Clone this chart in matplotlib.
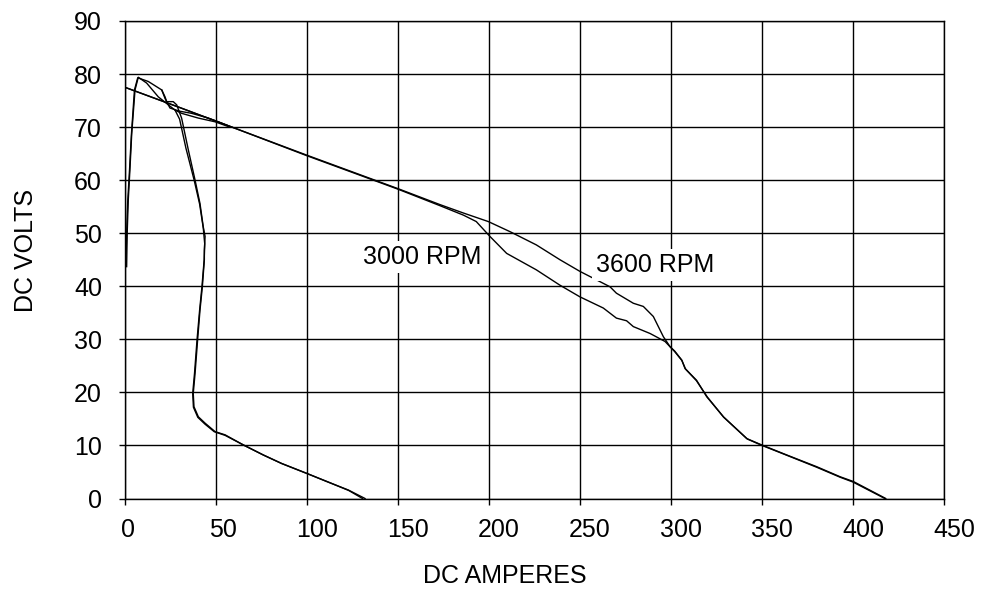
import numpy as np
import matplotlib
matplotlib.use('Agg')
import matplotlib.pyplot as plt
from matplotlib.transforms import ScaledTranslation

plt.rcParams['font.family'] = ['Liberation Sans', 'DejaVu Sans']

# --- data (DC amperes / DC volts) ---
# main load line, open circuit -> short circuit
main_3600_amps = [0, 30, 58, 100, 150, 173, 186, 199.6, 211.5, 226, 239, 250, 266.5,
                  270, 279.3, 284.8, 290.3, 295.8, 299.5, 302, 305.9, 307.7, 314, 319.6,
                  328.8, 341.6, 349.8, 363.6, 380, 392.9, 400.2, 418]
main_3600_volts = [77.5, 73.7, 70.1, 64.7, 58.4, 55.4, 53.8, 52.2, 50.3, 47.8, 45.0, 42.8, 39.9,
                   38.7, 36.8, 36.2, 34.3, 30.5, 28.6, 27.8, 26.1, 24.5, 22.3, 19.2,
                   15.4, 11.3, 10.1, 8.2, 6.0, 4.1, 3.2, 0]

main_3000_amps = [0, 30, 58, 100, 150, 173, 186, 193, 200.5, 209.7, 226, 239, 250, 262.8,
                  270, 275.6, 279.3, 288.5, 296.7, 299.5, 302, 306, 308, 314, 320,
                  329, 342, 350, 364, 380, 393, 400, 417.5]
main_3000_volts = [77.5, 73.7, 70.1, 64.6, 58.3, 55.2, 53.4, 52.2, 49.4, 46.2, 43.1, 40.2, 38.0, 35.9,
                   34.0, 33.5, 32.4, 31.1, 29.6, 28.6, 27.7, 26.0, 24.4, 22.2, 19.1,
                   15.3, 11.2, 10.0, 8.1, 5.9, 4.0, 3.1, 0]

# start-up loop: rise to the peak, then back onto the load line
loop_3600_amps = [0.9, 1.2, 1.8, 2.7, 3.7, 5.5, 7.3, 11.9, 18.3, 23.8, 27.5, 31.1, 40.3, 49.5, 56.8]
loop_3600_volts = [43.7, 50, 56.3, 62, 68.8, 77, 79.4, 78.3, 75.7, 74.2, 73.2, 72.6, 71.7, 71.0, 70.1]

loop_3000_amps = [20.2, 22.0, 24.7, 30, 36.6, 45.8, 52, 58.6]
loop_3000_volts = [77.0, 75.4, 73.6, 73.0, 72.6, 71.7, 70.9, 70.0]

# fold-back branch down to the low current short circuit
fold_3600_amps = [27.5, 30, 33.5, 38, 41, 43, 43.8, 43.5, 42.3, 41, 39.6, 38.2, 37.2, 37.6, 40,
                  44, 49, 55, 65, 76, 86, 100, 111, 123, 130.5]
fold_3600_volts = [73.2, 71.5, 66, 60, 55.5, 51, 48, 45, 40, 35.5, 30, 23.6, 19.8, 17.2, 15.3,
                   14, 12.6, 11.9, 10.1, 8.2, 6.6, 4.7, 3.2, 1.5, 0]

fold_3000_amps = [0.5, 0.9, 1.5, 2.5, 3.5, 5.2, 7.0, 12.8, 20.2, 22.0, 22.9, 26.5, 28.4, 31.1,
                  34.8, 38.5, 41.2, 43.0, 44.0, 43.6, 43.6, 42.5, 41.2, 39.9, 38.5, 37.5, 37.9,
                  40.3, 44, 49.5, 55, 65, 76, 86.1, 99.8, 110.8, 122.7, 131.9]
fold_3000_volts = [44.3, 50, 56, 62, 68.5, 77, 79.3, 78.6, 77.0, 75.7, 74.8, 74.8, 74.2, 71.7,
                   65.7, 60.0, 55.6, 51.2, 49.4, 46.8, 45.0, 39.9, 35.5, 29.9, 23.6, 19.8, 17.3,
                   15.4, 14.2, 12.6, 12.0, 10.1, 8.2, 6.6, 4.75, 3.2, 1.6, 0]

labels = ['3000 RPM', '3600 RPM']
label_pos = [(131, 45.5), (259, 44.0)]

x_ticks = list(range(0, 451, 50))
y_ticks = list(range(0, 91, 10))


fig = plt.figure(figsize=(9.81, 5.95), dpi=100)
ax = fig.add_axes([125 / 981, 1 - 498.5 / 595, 819 / 981, 477.5 / 595])

for amps, volts in [(main_3600_amps, main_3600_volts), (main_3000_amps, main_3000_volts),
                    (loop_3600_amps, loop_3600_volts), (loop_3000_amps, loop_3000_volts),
                    (fold_3600_amps, fold_3600_volts), (fold_3000_amps, fold_3000_volts)]:
    ax.plot(amps, volts, color='black', linewidth=1.0, zorder=2)

for txt, (xx, yy) in zip(labels, label_pos):
    ax.text(xx, yy, txt, fontsize=18, ha='left', va='center', zorder=3,
            bbox=dict(facecolor='white', edgecolor='none', pad=3))

ax.set_xlim(0, 450)
ax.set_ylim(0, 90)
ax.set_xticks(x_ticks)
ax.set_yticks(y_ticks)
ax.set_axisbelow(True)
ax.grid(True, color='black', linewidth=1.0)
ax.tick_params(axis='both', direction='out', length=4.5, width=1.0, labelsize=18, colors='black')
ax.tick_params(axis='y', pad=12)
ax.tick_params(axis='x', pad=9.5)
for s in ax.spines.values():
    s.set_linewidth(1.0)
    s.set_color('black')

# the x labels in the original sit a little right of their ticks (more for longer labels)
for lab, t in zip(ax.get_xticklabels(), x_ticks):
    shift = 3.3 * len(str(t)) / 100
    lab.set_transform(lab.get_transform() + ScaledTranslation(shift, 0, fig.dpi_scale_trans))

ax.set_xlabel('DC AMPERES', fontsize=18)
ax.set_ylabel('DC VOLTS', fontsize=18)
ax.xaxis.set_label_coords(0.464, -0.138)
ax.yaxis.set_label_coords(-0.106, 0.52)

fig.savefig('out.png', dpi=100, facecolor='white')
